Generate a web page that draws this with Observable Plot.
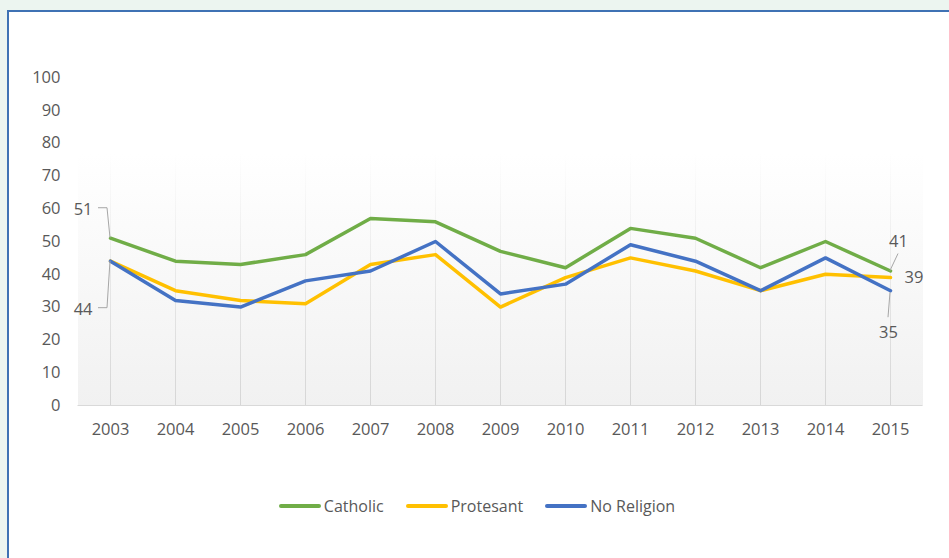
<!DOCTYPE html>
<html>
<head>
<meta charset="utf-8">
<script src="https://cdn.jsdelivr.net/npm/d3@7"></script>
<script src="https://cdn.jsdelivr.net/npm/@observablehq/plot@0.6"></script>
<style>
  html, body { margin: 0; padding: 0; width: 949px; height: 558px; overflow: hidden; background: #ecf5f0; }
  #box { position: absolute; left: 6.5px; top: 10px; width: 1000px; height: 600px; border: 2px solid #3f72b4; background: #ffffff; }
  #chart { position: absolute; left: 0; top: 0; }
  #legend { position: absolute; left: 0; top: 495px; width: 949px; display: flex; justify-content: center; padding-left: 5px; box-sizing: border-box;
            font-family: "Open Sans", sans-serif; font-size: 16px; color: #595959; }
  .item { display: flex; align-items: center; margin: 0 11px; }
  .sw { width: 42px; height: 4px; border-radius: 2px; margin-right: 3px; }
</style>
</head>
<body>
<div id="box"></div>
<div id="chart"></div>
<div id="legend"></div>
<script>
// ---- data ----
const years = [2003, 2004, 2005, 2006, 2007, 2008, 2009, 2010, 2011, 2012, 2013, 2014, 2015];
const catholic   = [51, 44, 43, 46, 57, 56, 47, 42, 54, 51, 42, 50, 41];
const protestant = [44, 35, 32, 31, 43, 46, 30, 39, 45, 41, 35, 40, 39];
const noReligion = [44, 32, 30, 38, 41, 50, 34, 37, 49, 44, 35, 45, 35];
const seriesNames = ["Catholic", "Protesant", "No Religion"];
const seriesColors = ["#70ad47", "#ffc000", "#4472c4"];
const yTicks = [0, 10, 20, 30, 40, 50, 60, 70, 80, 90, 100];

// data labels shown in the chart (series, year)
const labelSeries = ["Catholic", "No Religion", "Catholic", "Protesant", "No Religion"];
const labelYears  = [2003, 2003, 2015, 2015, 2015];

// ---- build table ----
const valuesBySeries = { "Catholic": catholic, "Protesant": protestant, "No Religion": noReligion };
const data = [];
for (const s of seriesNames) years.forEach((y, i) => data.push({ series: s, year: y, value: valuesBySeries[s][i] }));
const labels = labelSeries.map((s, i) => ({ series: s, year: labelYears[i], value: valuesBySeries[s][years.indexOf(labelYears[i])] }));

// label placement (style, not data)
const labelStyle = [
  { dx: -18, dy: -29, anchor: "end",    leader: [[0, 0], [-3, -30], [-12, -30]] },
  { dx: -18, dy: 49,  anchor: "end",    leader: [[0, 0], [-3, 47], [-12, 47]] },
  { dx: 8,   dy: -29, anchor: "middle", leader: [[0, 0], [8, -17]] },
  { dx: 14,  dy: 0,   anchor: "start",  leader: null },
  { dx: -2,  dy: 42,  anchor: "middle", leader: [[0, 2], [-2, 27]] }
];

const labelMarks = labels.map((d, i) => Plot.text([d], {
  x: "year", y: "value", text: d => String(d.value),
  dx: labelStyle[i].dx, dy: labelStyle[i].dy, textAnchor: labelStyle[i].anchor,
  fill: "#595959", fontSize: 16.5
}));

const plot = Plot.plot({
  width: 949,
  height: 470,
  marginLeft: 77.5,
  marginRight: 26.5,
  marginTop: 77,
  marginBottom: 65,
  style: { fontFamily: "Open Sans, sans-serif", fontSize: "16.5px", color: "#595959", background: "transparent", overflow: "visible" },
  x: { type: "point", domain: years, padding: 0.5, label: null, tickSize: 0, tickPadding: 18, tickFormat: d => String(d) },
  y: { domain: [0, 100], ticks: yTicks, label: null, tickSize: 0, tickPadding: 17.5 },
  color: { domain: seriesNames, range: seriesColors },
  marks: [
    Plot.frame({ fill: "url(#bgGrad)", stroke: "none" }),
    Plot.ruleX(years, { stroke: "url(#gridGrad)", strokeWidth: 1 }),
    Plot.ruleY([0], { stroke: "#d9d9d9", strokeWidth: 1 }),
    Plot.line(data, { x: "year", y: "value", z: "series", stroke: "series", strokeWidth: 3.5, strokeLinejoin: "round" }),
    ...labelMarks
  ]
});

// gradient definitions (pixel stops from the y scale range)
const svg = d3.select(plot);
const xs = plot.scale("x"), ys = plot.scale("y");
const yTop = ys.apply(77), yBot = ys.apply(0);
const defs = svg.insert("defs", ":first-child");
const grad = defs.append("linearGradient").attr("id", "bgGrad").attr("gradientUnits", "userSpaceOnUse")
  .attr("x1", 0).attr("y1", yTop).attr("x2", 0).attr("y2", yBot);
grad.append("stop").attr("offset", "0%").attr("stop-color", "#ffffff");
grad.append("stop").attr("offset", "100%").attr("stop-color", "#f1f1f1");
const gg = defs.append("linearGradient").attr("id", "gridGrad").attr("gradientUnits", "userSpaceOnUse")
  .attr("x1", 0).attr("y1", yTop).attr("x2", 0).attr("y2", yBot);
gg.append("stop").attr("offset", "0%").attr("stop-color", "#d9d9d9").attr("stop-opacity", 0);
gg.append("stop").attr("offset", "100%").attr("stop-color", "#d6d6d6").attr("stop-opacity", 1);

// leader lines drawn through the plot's scales
const leaderG = svg.append("g").attr("fill", "none").attr("stroke", "#a6a6a6").attr("stroke-width", 1);
labels.forEach((d, i) => {
  const L = labelStyle[i].leader;
  if (!L) return;
  const px = xs.apply(d.year), py = ys.apply(d.value);
  leaderG.append("path").attr("d", d3.line()(L.map(([ox, oy]) => [px + ox, py + oy])));
});

document.getElementById("chart").appendChild(plot);

// legend
const legend = d3.select("#legend");
seriesNames.forEach((s, i) => {
  const it = legend.append("div").attr("class", "item");
  it.append("div").attr("class", "sw").style("background", seriesColors[i]);
  it.append("span").text(s);
});
</script>
</body>
</html>
